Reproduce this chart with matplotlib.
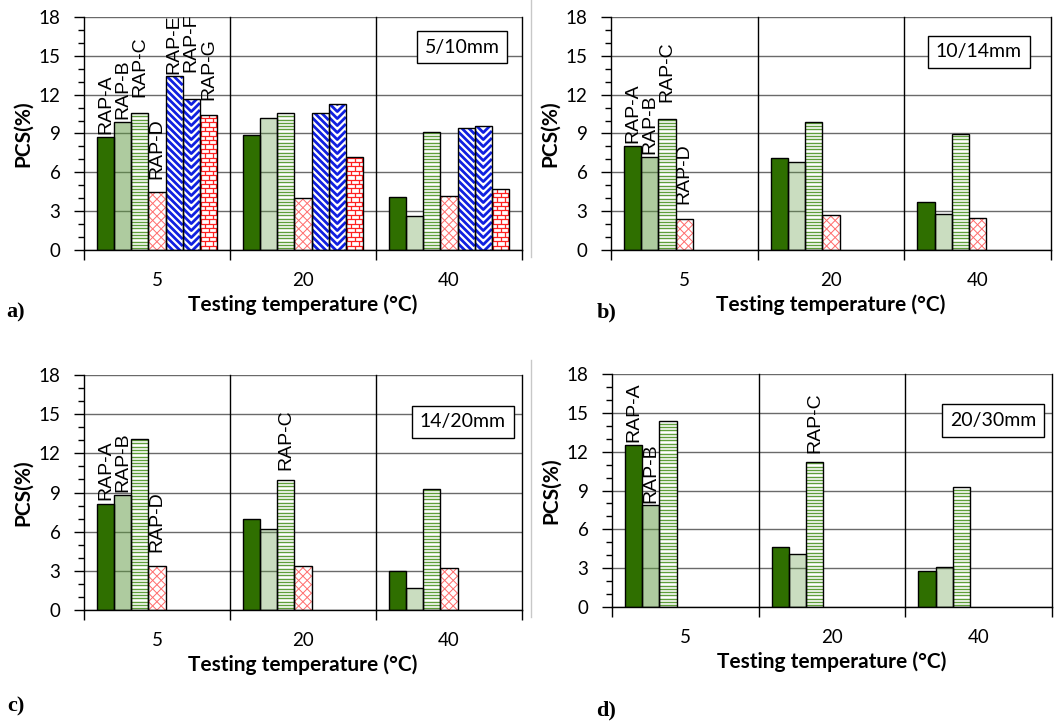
import numpy as np
import matplotlib
matplotlib.use('Agg')
import matplotlib.pyplot as plt
from matplotlib.collections import LineCollection
from matplotlib.lines import Line2D
from matplotlib.ticker import MultipleLocator

plt.rcParams['font.family'] = 'Lato'

temps = ['5', '20', '40']
rap = ['RAP-A', 'RAP-B', 'RAP-C', 'RAP-D', 'RAP-E', 'RAP-F', 'RAP-G']

# PCS (%) per RAP source, at 5 / 20 / 40 °C
pcs_5_10 = [
    [8.7, 8.9, 4.1],
    [9.9, 10.2, 2.6],
    [10.6, 10.55, 9.1],
    [4.45, 4.05, 4.2],
    [13.45, 10.55, 9.4],
    [11.7, 11.3, 9.55],
    [10.4, 7.2, 4.7],
]
pcs_10_14 = [
    [8.0, 7.1, 3.7],
    [7.2, 6.8, 2.8],
    [10.15, 9.9, 8.95],
    [2.4, 2.7, 2.45],
]
pcs_14_20 = [
    [8.1, 7.0, 2.95],
    [8.8, 6.2, 1.7],
    [13.1, 9.95, 9.25],
    [3.35, 3.4, 3.2],
]
pcs_20_30 = [
    [12.5, 4.6, 2.8],
    [7.85, 4.1, 3.1],
    [14.4, 11.2, 9.25],
]

# which bars carry a name label: (series, temperature, lift above bar)
labels_5_10 = [(0, 0, 0.3), (1, 0, 0.25), (2, 0, 1.2), (3, 0, 1.05),
               (4, 0, 0.15), (5, 0, 2.05), (6, 0, 1.15)]
labels_10_14 = [(0, 0, 0.23), (1, 0, 0.2), (2, 0, 1.3), (3, 0, 1.16)]
labels_14_20 = [(0, 0, 0.33), (1, 0, 0.2), (3, 0, 1.13), (2, 1, 0.8)]
labels_20_30 = [(0, 0, 0.28), (1, 0, 0.2), (2, 1, 0.67)]

kinds = ['solid', 'solid', 'hlines', 'cross', 'stripes', 'chevron', 'bricks']

W, H = 1057, 724
fig = plt.figure(figsize=(W / 100, H / 100), dpi=100)


def pattern(ax, bar, kind, kx, ky):
    x0, y0, w, h = bar.get_x(), bar.get_y(), bar.get_width(), bar.get_height()
    pw, ph = w * kx, h * ky
    segs = []
    if kind == 'hlines':
        for py in np.arange(1.7, ph, 3.3):
            segs.append([(0, py), (pw, py)])
        col, lw = '#5E9E3A', 1.0
    elif kind == 'cross':
        for c in np.arange(-pw, ph + pw, 8.5):
            segs.append([(0, c), (pw, c + pw)])
            segs.append([(0, c), (pw, c - pw)])
        col, lw = '#FF6A6A', 0.7
    elif kind == 'stripes':
        for c in np.arange(0, ph + pw, 7):
            segs.append([(0, c), (pw, c - pw)])
        col, lw = '#1020E0', 2.0
    elif kind == 'chevron':
        for c in np.arange(0, ph + pw, 7):
            segs.append([(0, c), (pw / 2, c - pw / 2), (pw, c)])
        col, lw = '#1020E0', 2.0
    else:
        rh, bw = 4.4, 7.5
        for k, py in enumerate(np.arange(0, ph, rh)):
            segs.append([(0, py), (pw, py)])
            off = 1.5 if k % 2 == 0 else 1.5 + bw / 2
            for px in np.arange(off, pw, bw):
                segs.append([(px, py), (px, py + rh)])
        col, lw = '#FF2020', 0.9
    segs = [[(x0 + px / kx, y0 + py / ky) for px, py in s] for s in segs]
    lc = LineCollection(segs, colors=col, linewidths=lw, zorder=2.5)
    ax.add_collection(lc, autolim=False)
    lc.set_clip_path(bar)


def panel(rect, data, tag, box_xy, spots):
    ax = fig.add_axes(rect)
    ax.set_xlim(-0.5, 2.5)
    ax.set_ylim(0, 18)
    pos = ax.get_position()
    kx = pos.width * W / 3
    ky = pos.height * H / 18
    bw = (1 - 0.178) / 7
    x = np.arange(len(temps))
    for i, vals in enumerate(data):
        xs = x + (i - 3) * bw
        if i == 0:
            fc = ['#2F6F00'] * 3
        elif i == 1:
            fc = [(0.37, 0.6, 0.25, 0.5), (0.37, 0.6, 0.25, 0.33), (0.37, 0.6, 0.25, 0.33)]
        else:
            fc = ['white'] * 3
        bars = ax.bar(xs, vals, bw, color=fc, edgecolor='none', zorder=2)
        if kinds[i] != 'solid':
            for b in bars:
                pattern(ax, b, kinds[i], kx, ky)
        ax.bar(xs, vals, bw, fill=False, edgecolor='black', linewidth=1.0, zorder=3)
    for i, t, lift in spots:
        ax.text(x[t] + (i - 3) * bw, data[i][t] + lift, rap[i], rotation=90,
                ha='center', va='bottom', fontsize=14, family='Liberation Sans', zorder=4)

    ax.set_axisbelow(True)
    ax.yaxis.grid(True, color='#6a6a6a', lw=1)
    for b in [0.5, 1.5, 2.5]:
        ax.axvline(b, color='black', lw=1, zorder=1, clip_on=False)
    ax.spines['top'].set_visible(False)
    ax.spines['right'].set_visible(False)
    ax.spines['left'].set_linewidth(1)
    ax.spines['bottom'].set_linewidth(1)

    ax.set_yticks(range(0, 19, 3))
    ax.yaxis.set_minor_locator(MultipleLocator(1))
    ax.tick_params(axis='y', which='major', length=7, width=1, pad=10, labelsize=13.5)
    ax.tick_params(axis='y', which='minor', length=4, width=1)
    ax.set_xticks([-0.5, 0.5, 1.5, 2.5])
    ax.set_xticklabels([])
    ax.set_xticks(x, minor=True)
    ax.set_xticklabels(temps, minor=True)
    ax.tick_params(axis='x', which='major', length=7, width=1)
    ax.tick_params(axis='x', which='minor', length=0, pad=16, labelsize=13.5)

    ax.set_ylabel('PCS(%)', fontsize=15, fontweight='bold', labelpad=4)
    ax.set_xlabel('Testing temperature (°C)', fontsize=15, fontweight='bold', labelpad=4)
    ax.text(box_xy[0], box_xy[1], tag, transform=ax.transAxes, ha='center', va='center',
            fontsize=14, zorder=5,
            bbox=dict(boxstyle='square,pad=0.4', fc='white', ec='black', lw=1))
    return ax


panel([84 / W, 1 - 250 / H, 438 / W, 233 / H], pcs_5_10, '5/10mm', (0.863, 0.871), labels_5_10)
panel([611 / W, 1 - 250 / H, 440 / W, 233 / H], pcs_10_14, '10/14mm', (0.836, 0.85), labels_10_14)
panel([84 / W, 1 - 610 / H, 438 / W, 235 / H], pcs_14_20, '14/20mm', (0.865, 0.80), labels_14_20)
panel([612 / W, 1 - 607 / H, 440 / W, 233 / H], pcs_20_30, '20/30mm', (0.866, 0.80), labels_20_30)

for letter, lx, ly in [('a)', 6, 312), ('b)', 597, 312), ('c)', 7, 706), ('d)', 596, 710)]:
    fig.text(lx / W, 1 - ly / H, letter, fontsize=16, fontweight='bold',
             family='Liberation Serif', ha='left', va='center')

# thin chart-area borders left of the right-hand charts
fig.add_artist(Line2D([531 / W] * 2, [1, 1 - 257 / H], color='#c8c8c8', lw=1))
fig.add_artist(Line2D([531 / W] * 2, [1 - 360 / H, 1 - 617 / H], color='#c8c8c8', lw=1))

fig.savefig('out.png', dpi=100)
